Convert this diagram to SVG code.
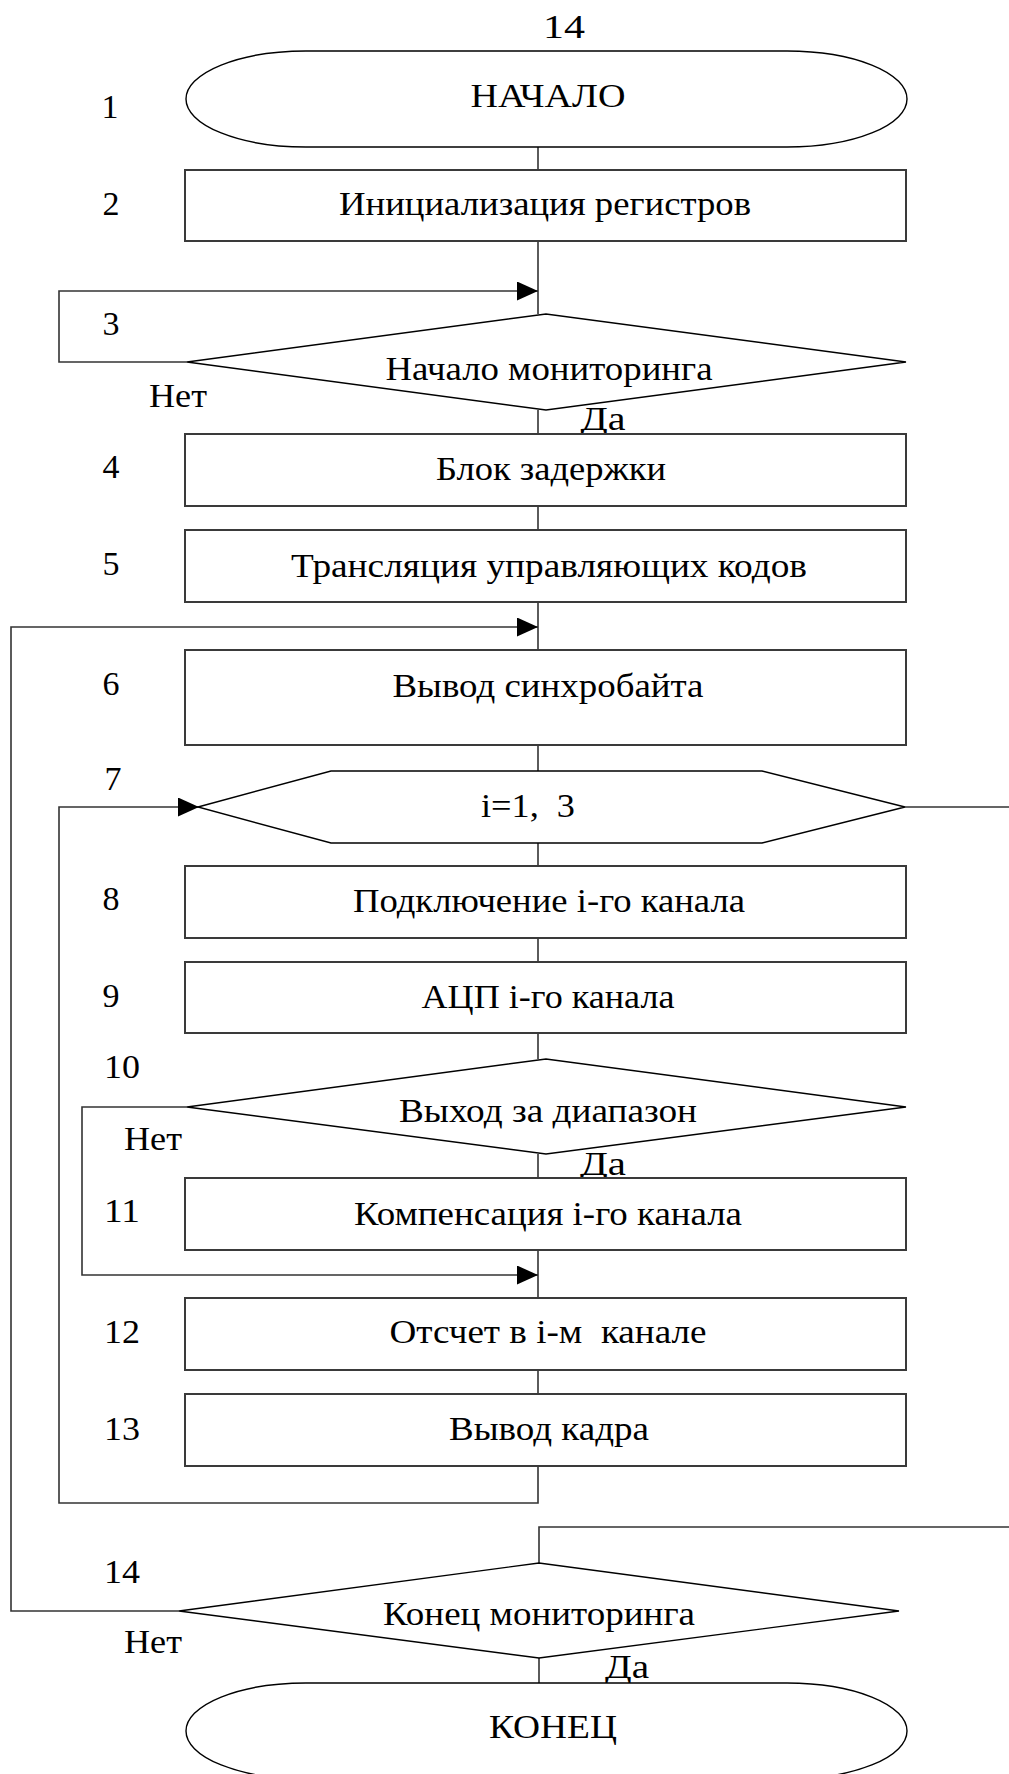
<svg xmlns="http://www.w3.org/2000/svg" width="1009" height="1774" viewBox="0 0 1009 1774">
<style>
text{font-family:"Liberation Serif","Times New Roman",serif;font-size:34px;fill:#000}
.box{fill:#fff;stroke:#3a3a3a;stroke-width:2}
.shape{fill:#fff;stroke:#000;stroke-width:1.4}
.conn{fill:none;stroke:#333;stroke-width:1.6}
</style>
<defs>
<marker id="arr" markerUnits="userSpaceOnUse" markerWidth="22" markerHeight="20" refX="21" refY="9.5" orient="auto">
<path d="M0,0 L21,9.5 L0,19 z" fill="#000"/>
</marker>
</defs>
<text x="564" y="38" text-anchor="middle" textLength="42" lengthAdjust="spacingAndGlyphs">14</text>
<g id="connectors">
<path class="conn" d="M538,147 V170"/>
<path class="conn" d="M538,241 V314"/>
<path class="conn" d="M187,362 H59 V291 H538" marker-end="url(#arr)"/>
<path class="conn" d="M538,410 V434"/>
<path class="conn" d="M538,506 V530"/>
<path class="conn" d="M538,602 V650"/>
<path class="conn" d="M179,1611 H11 V627 H538" marker-end="url(#arr)"/>
<path class="conn" d="M538,745 V771"/>
<path class="conn" d="M538,843 V866"/>
<path class="conn" d="M538,938 V962"/>
<path class="conn" d="M538,1033 V1059"/>
<path class="conn" d="M538,1154 V1178"/>
<path class="conn" d="M538,1250 V1298"/>
<path class="conn" d="M187,1107 H82 V1275 H538" marker-end="url(#arr)"/>
<path class="conn" d="M538,1370 V1394"/>
<path class="conn" d="M538,1466 V1503 H59 V807 H199" marker-end="url(#arr)"/>
<path class="conn" d="M905,807 H1012 V1527 H539 V1563"/>
<path class="conn" d="M539,1658 V1683"/>
</g>
<g id="n1">
<rect class="shape" x="186" y="51" width="721" height="96" rx="120" ry="48"/>
<text x="110" y="118" text-anchor="middle">1</text>
<text x="548" y="107" text-anchor="middle" textLength="155" lengthAdjust="spacingAndGlyphs">НАЧАЛО</text>
</g>
<g id="n2">
<rect class="box" x="185" y="170" width="721" height="71"/>
<text x="111" y="215" text-anchor="middle">2</text>
<text x="545" y="215" text-anchor="middle" textLength="412" lengthAdjust="spacingAndGlyphs">Инициализация регистров</text>
</g>
<g id="n3">
<polygon class="shape" points="187,362 546,314 906,362 546,410"/>
<text x="111" y="335" text-anchor="middle">3</text>
<text x="549" y="380" text-anchor="middle" textLength="327" lengthAdjust="spacingAndGlyphs">Начало мониторинга</text>
<text x="178" y="407" text-anchor="middle" textLength="58" lengthAdjust="spacingAndGlyphs">Нет</text>
<text x="603" y="430" text-anchor="middle" textLength="45" lengthAdjust="spacingAndGlyphs">Да</text>
</g>
<g id="n4">
<rect class="box" x="185" y="434" width="721" height="72"/>
<text x="111" y="478" text-anchor="middle">4</text>
<text x="551" y="480" text-anchor="middle" textLength="230" lengthAdjust="spacingAndGlyphs">Блок задержки</text>
</g>
<g id="n5">
<rect class="box" x="185" y="530" width="721" height="72"/>
<text x="111" y="575" text-anchor="middle">5</text>
<text x="549" y="577" text-anchor="middle" textLength="516" lengthAdjust="spacingAndGlyphs">Трансляция управляющих кодов</text>
</g>
<g id="n6">
<rect class="box" x="185" y="650" width="721" height="95"/>
<text x="111" y="695" text-anchor="middle">6</text>
<text x="548" y="697" text-anchor="middle" textLength="311" lengthAdjust="spacingAndGlyphs">Вывод синхробайта</text>
</g>
<g id="n7">
<polygon class="shape" points="198,807 331,771 762,771 905,807 762,843 331,843"/>
<text x="113" y="790" text-anchor="middle">7</text>
<text x="528" y="817" text-anchor="middle" textLength="94" lengthAdjust="spacingAndGlyphs" xml:space="preserve">i=1,  3</text>
</g>
<g id="n8">
<rect class="box" x="185" y="866" width="721" height="72"/>
<text x="111" y="910" text-anchor="middle">8</text>
<text x="549" y="912" text-anchor="middle" textLength="392" lengthAdjust="spacingAndGlyphs">Подключение i-го канала</text>
</g>
<g id="n9">
<rect class="box" x="185" y="962" width="721" height="71"/>
<text x="111" y="1007" text-anchor="middle">9</text>
<text x="548" y="1008" text-anchor="middle" textLength="253" lengthAdjust="spacingAndGlyphs">АЦП i-го канала</text>
</g>
<g id="n10">
<polygon class="shape" points="187,1107 546,1059 906,1107 546,1154"/>
<text x="122" y="1078" text-anchor="middle" textLength="36" lengthAdjust="spacingAndGlyphs">10</text>
<text x="548" y="1122" text-anchor="middle" textLength="298" lengthAdjust="spacingAndGlyphs">Выход за диапазон</text>
<text x="153" y="1150" text-anchor="middle" textLength="58" lengthAdjust="spacingAndGlyphs">Нет</text>
<text x="603" y="1175" text-anchor="middle" textLength="46" lengthAdjust="spacingAndGlyphs">Да</text>
</g>
<g id="n11">
<rect class="box" x="185" y="1178" width="721" height="72"/>
<text x="122" y="1222" text-anchor="middle" textLength="36" lengthAdjust="spacingAndGlyphs">11</text>
<text x="548" y="1225" text-anchor="middle" textLength="388" lengthAdjust="spacingAndGlyphs">Компенсация i-го канала</text>
</g>
<g id="n12">
<rect class="box" x="185" y="1298" width="721" height="72"/>
<text x="122" y="1343" text-anchor="middle" textLength="36" lengthAdjust="spacingAndGlyphs">12</text>
<text x="548" y="1343" text-anchor="middle" textLength="317" lengthAdjust="spacingAndGlyphs" xml:space="preserve">Отсчет в i-м  канале</text>
</g>
<g id="n13">
<rect class="box" x="185" y="1394" width="721" height="72"/>
<text x="122" y="1440" text-anchor="middle" textLength="36" lengthAdjust="spacingAndGlyphs">13</text>
<text x="549" y="1440" text-anchor="middle" textLength="200" lengthAdjust="spacingAndGlyphs">Вывод кадра</text>
</g>
<g id="n14">
<polygon class="shape" points="179,1611 539,1563 899,1611 539,1658"/>
<text x="122" y="1583" text-anchor="middle" textLength="36" lengthAdjust="spacingAndGlyphs">14</text>
<text x="539" y="1625" text-anchor="middle" textLength="312" lengthAdjust="spacingAndGlyphs">Конец мониторинга</text>
<text x="153" y="1653" text-anchor="middle" textLength="58" lengthAdjust="spacingAndGlyphs">Нет</text>
<text x="627" y="1678" text-anchor="middle" textLength="44" lengthAdjust="spacingAndGlyphs">Да</text>
</g>
<g id="n15">
<rect class="shape" x="186" y="1683" width="721" height="96" rx="120" ry="48"/>
<text x="553" y="1738" text-anchor="middle" textLength="128" lengthAdjust="spacingAndGlyphs">КОНЕЦ</text>
</g>
</svg>
